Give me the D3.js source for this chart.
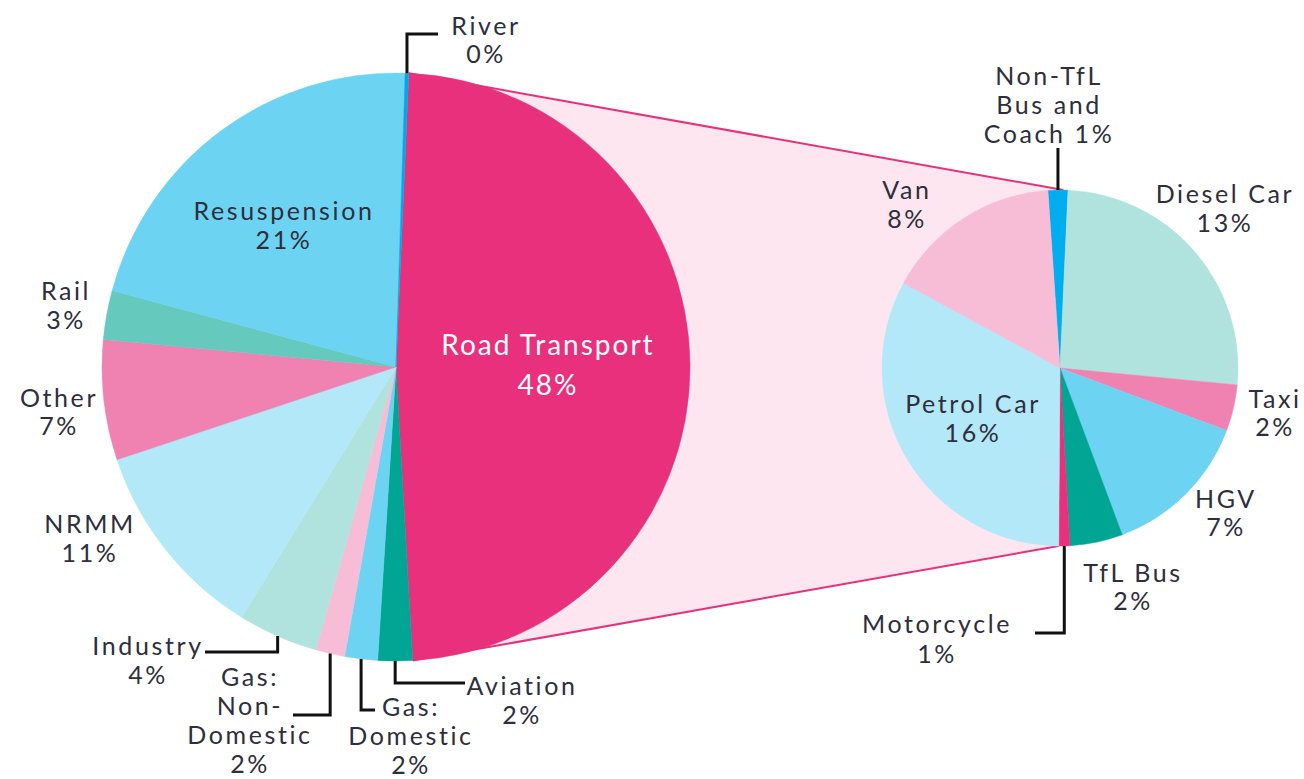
<!DOCTYPE html>
<html>
<head>
<meta charset="utf-8">
<script src="https://cdn.jsdelivr.net/npm/d3@7"></script>
<style>
   html, body { margin: 0; padding: 0; background: #ffffff; }
   svg text { font-family: Lato, "Open Sans", sans-serif; fill: #2e2e3c; }
</style>
</head>
<body>
<svg id="chart"></svg>
<script>
// Main pie: sources, in clockwise order from the top
const bigNames = ["Road Transport", "Aviation", "Gas: Domestic", "Gas: Non-Domestic", "Industry",
                  "NRMM", "Other", "Rail", "Resuspension", "River"];
const bigValues = [48.4, 1.9, 1.8, 1.6, 4.4, 11.1, 6.6, 2.7, 21.3, 0.2];
const bigColors = ["#e8307c", "#00a593", "#6dd3f3", "#f7bcd6", "#b0e3dd",
                   "#b2e8f8", "#f082b1", "#66c9bd", "#6dd3f3", "#00a9e6"];

// Breakdown of road transport (share of total)
const smallNames = ["Non-TfL Bus and Coach", "Diesel Car", "Taxi", "HGV", "TfL Bus",
                    "Motorcycle", "Petrol Car", "Van"];
const smallValues = [0.9, 12.9, 2.1, 6.8, 2.4, 0.5, 16.4, 8.0];
const smallColors = ["#00aeef", "#b0e3dd", "#f082b1", "#6dd3f3", "#00a593",
                     "#e8307c", "#b2e8f8", "#f7bdd7"];

window.onload = function() {
   drawGraphic();
}

function drawGraphic() {
   let width = 1304;
   let height = 779;
   let big = {cx: 396, cy: 367, r: 294, start: 2.5};
   let small = {cx: 1060, cy: 368, r: 178, start: -3.9};
   let lineGap = 29;

   // label placement: centre x, first baseline, lines ({p} = percentage)
   let bigLabels = {
      "Road Transport": {x: 548, y: 355, gap: 40, size: 28, spacing: 2, fill: "#ffffff", lines: ["Road Transport", "{p}"]},
      "Resuspension": {x: 284, y: 220, lines: ["Resuspension", "{p}"]},
      "Rail": {x: 66, y: 300, lines: ["Rail", "{p}"]},
      "Other": {x: 59, y: 407, gap: 28, lines: ["Other", "{p}"]},
      "NRMM": {x: 90, y: 533, lines: ["NRMM", "{p}"]},
      "Industry": {x: 148, y: 655, lines: ["Industry", "{p}"], leader: [652, 205]},
      "Gas: Non-Domestic": {x: 250, y: 686, lines: ["Gas:", "Non-", "Domestic", "{p}"], leader: [715, 293]},
      "Gas: Domestic": {x: 411, y: 716, lines: ["Gas:", "Domestic", "{p}"], leader: [710, 375]},
      "Aviation": {x: 522, y: 695, lines: ["Aviation", "{p}"], leader: [683, 465]},
      "River": {x: 486, y: 35, gap: 28, lines: ["River", "{p}"], leader: [34, 438]}
   };
   let smallLabels = {
      "Non-TfL Bus and Coach": {x: 1049, y: 85, lines: ["Non-TfL", "Bus and", "Coach {p}"], leader: [148, null]},
      "Diesel Car": {x: 1225, y: 203, lines: ["Diesel Car", "{p}"]},
      "Taxi": {x: 1275, y: 408, gap: 28, lines: ["Taxi", "{p}"]},
      "HGV": {x: 1226, y: 508, gap: 28, lines: ["HGV", "{p}"]},
      "TfL Bus": {x: 1133, y: 582, gap: 28, lines: ["TfL Bus", "{p}"]},
      "Motorcycle": {x: 937, y: 633, gap: 30, lines: ["Motorcycle", "{p}"], leader: [633, 1035]},
      "Petrol Car": {x: 973, y: 413, lines: ["Petrol Car", "{p}"]},
      "Van": {x: 907, y: 199, lines: ["Van", "{p}"]}
   };

   let rad = d => d * Math.PI / 180;
   let svg = d3.select("svg#chart")
      .attr("width", width)
      .attr("height", height)
      .attr("viewBox", [0, 0, width, height]);

   let bigPie = d3.pie().sort(null)
      .startAngle(rad(big.start)).endAngle(rad(big.start) + 2 * Math.PI);
   let smallPie = d3.pie().sort(null)
      .startAngle(rad(small.start)).endAngle(rad(small.start) + 2 * Math.PI);
   let bigArcs = bigPie(bigValues);
   let smallArcs = smallPie(smallValues);

   let pt = (c, a) => [c.cx + c.r * Math.sin(a), c.cy - c.r * Math.cos(a)];

   // connecting band between road transport and its breakdown
   let road = bigArcs[0];
   let p1 = pt(big, road.startAngle);
   let p2 = pt(small, smallArcs[1].startAngle - rad(1.5));
   let p3 = pt(small, smallArcs[6].startAngle);
   let p4 = pt(big, road.endAngle);
   svg.append("path")
      .attr("d", "M" + p1 + "L" + p2 + "L" + p3 + "L" + p4 + "Z")
      .attr("fill", "#fde6ef");
   svg.append("path")
      .attr("d", "M" + p1 + "L" + p2 + "M" + p3 + "L" + p4)
      .attr("fill", "none")
      .attr("stroke", "#e8307c")
      .attr("stroke-width", 2);

   drawPie(big, bigArcs, bigColors);
   drawPie(small, smallArcs, smallColors);
   drawLabels(big, bigArcs, bigNames, bigLabels);
   drawLabels(small, smallArcs, smallNames, smallLabels);

   function drawPie(c, arcs, colors) {
      let arc = d3.arc().innerRadius(0).outerRadius(c.r);
      svg.append("g")
         .attr("transform", "translate(" + c.cx + "," + c.cy + ")")
         .selectAll("path")
         .data(arcs)
         .join("path")
            .attr("d", arc)
            .attr("fill", (d, i) => colors[i])
            .attr("stroke", (d, i) => colors[i])
            .attr("stroke-width", 0.5);
   }

   function drawLabels(c, arcs, names, layout) {
      arcs.forEach(function(d, i) {
         let lab = layout[names[i]];
         if (!lab) return;
         let pct = Math.round(d.value) + "%";
         let gap = lab.gap || lineGap;
         let t = svg.append("text")
            .attr("text-anchor", "middle")
            .style("font-size", (lab.size || 25) + "px")
            .style("letter-spacing", (lab.spacing || 2.6) + "px");
         if (lab.fill) t.style("fill", lab.fill);
         lab.lines.forEach(function(line, j) {
            t.append("tspan")
               .attr("x", lab.x)
               .attr("y", lab.y + j * gap)
               .text(line.replace("{p}", pct));
         });
         if (lab.leader) {
            let start = pt(c, (d.startAngle + d.endAngle) / 2);
            let pts = [start, [start[0], lab.leader[0]]];
            if (lab.leader[1] !== null) pts.push([lab.leader[1], lab.leader[0]]);
            svg.append("path")
               .attr("d", d3.line()(pts))
               .attr("fill", "none")
               .attr("stroke", "#111111")
               .attr("stroke-width", 3);
         }
      });
   }
}
</script>
</body>
</html>
